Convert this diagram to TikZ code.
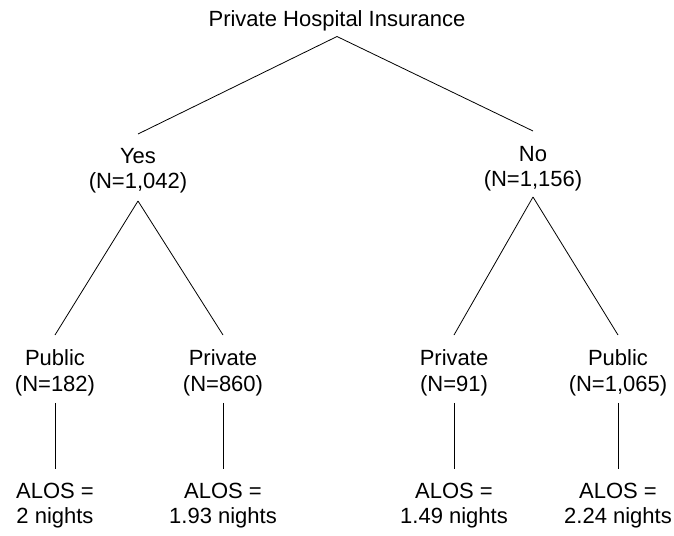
\documentclass[tikz,border=0pt]{standalone}
\usepackage{fontspec}
\setmainfont{Liberation Sans}
\usetikzlibrary{positioning}

\begin{document}
\begin{tikzpicture}[
  x=1pt, y=-1pt,
  lbl/.style={
    align=center, inner sep=0pt, outer sep=0pt, anchor=north,
    font=\fontsize{22}{25.3}\selectfont
  },
  branch/.style={line width=0.8pt, black}
]
  \useasboundingbox (0,0) rectangle (674,535);

  % root and first split
  \node[lbl] (root) at (337,11) {Private Hospital Insurance};
  \node[lbl] (yes) at (138,148) {Yes\\(N=1,042)};
  \node[lbl] (no)  at (533,146) {No\\(N=1,156)};

  % second split
  \node[lbl] (pubY)  at (55,350)  {Public\\(N=182)};
  \node[lbl] (privY) at (223,350) {Private\\(N=860)};
  \node[lbl] (privN) at (454,350) {Private\\(N=91)};
  \node[lbl] (pubN)  at (618,350) {Public\\(N=1,065)};

  % length of stay
  \node[lbl, below=87pt of pubY]  (alos1) {ALOS =\\2 nights};
  \node[lbl, below=87pt of privY] (alos2) {ALOS =\\1.93 nights};
  \node[lbl, below=87pt of privN] (alos3) {ALOS =\\1.49 nights};
  \node[lbl, below=87pt of pubN]  (alos4) {ALOS =\\2.24 nights};

  \draw[branch] ([yshift=-5pt]root.south) -- ([yshift=14pt]yes.north);
  \draw[branch] ([yshift=-5pt]root.south) -- ([yshift=15pt]no.north);

  \draw[branch] ([yshift=-8pt]yes.south) -- ([yshift=15pt]pubY.north);
  \draw[branch] ([yshift=-8pt]yes.south) -- ([yshift=15pt]privY.north);
  \draw[branch] ([yshift=-6pt]no.south) -- ([yshift=15pt]privN.north);
  \draw[branch] ([yshift=-6pt]no.south) -- ([yshift=15pt]pubN.north);

  \draw[branch] ([yshift=-7pt]pubY.south)  -- ([yshift=14pt]alos1.north);
  \draw[branch] ([yshift=-7pt]privY.south) -- ([yshift=14pt]alos2.north);
  \draw[branch] ([yshift=-7pt]privN.south) -- ([yshift=14pt]alos3.north);
  \draw[branch] ([yshift=-7pt]pubN.south)  -- ([yshift=14pt]alos4.north);
\end{tikzpicture}
\end{document}
